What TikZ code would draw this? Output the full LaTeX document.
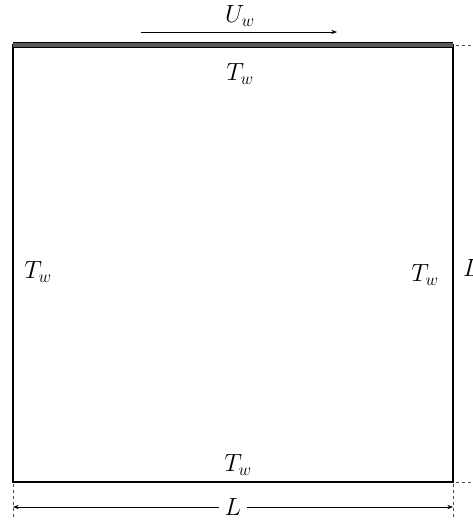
\documentclass[tikz,border=0pt]{standalone}
\usepackage{tikz}
\usetikzlibrary{arrows.meta,positioning}

\begin{document}
\begin{tikzpicture}[
    x=1pt, y=1pt,
    font=\fontsize{23}{27}\selectfont,
    pared/.style={line width=2.4pt, line cap=rect},
    tapa/.style={draw=black, line width=1pt, double=black!65, double distance=3.5pt},
    guia/.style={dashed, line width=0.6pt, black!70},
    cota/.style={{Stealth[length=2mm]}-{Stealth[length=2mm]}, line width=0.6pt},
    flecha/.style={-{Stealth[length=2mm]}, line width=0.6pt}
  ]
    \useasboundingbox (0,0) rectangle (472,520);
    % cavidad
    \coordinate (so) at (13,38);
    \coordinate (se) at (453,38);
    \coordinate (ne) at (453,475);
    \coordinate (no) at (13,475);
    \draw[pared] (no) -- (so) -- (se) -- (ne);
    \draw[tapa] (no) -- (ne);
    % etiquetas
    \node (uw) at (240,504) {$U_w$};
    \coordinate (ua) at (141,488);
    \coordinate (ub) at (337,488);
    \draw[flecha] (ua) -- (ub);
    \node (tarriba) at (240,446) {$T_w$};
    \node (tizq) at (38,248) {$T_w$};
    \node (tder) at (425,245) {$T_w$};
    \node (tabajo) at (238,55) {$T_w$};
    % cotas
    \coordinate (ga) at (456,475);
    \coordinate (gb) at (472,475);
    \coordinate (gc) at (456,38);
    \coordinate (gd) at (472,38);
    \coordinate (ge) at (13,36);
    \coordinate (gf) at (13,0);
    \coordinate (gg) at (453,36);
    \coordinate (gh) at (453,0);
    \draw[guia] (ga) -- (gb);
    \draw[guia] (gc) -- (gd);
    \draw[guia] (ge) -- (gf);
    \draw[guia] (gg) -- (gh);
    \coordinate (ca) at (13,13);
    \coordinate (cb) at (453,13);
    \draw[cota] (ca) -- node[fill=white, inner sep=6pt] (ancho) {$L$} (cb);
    \node[anchor=west, inner sep=0pt] (alto) at (463,252) {$L$};
\end{tikzpicture}
\end{document}
